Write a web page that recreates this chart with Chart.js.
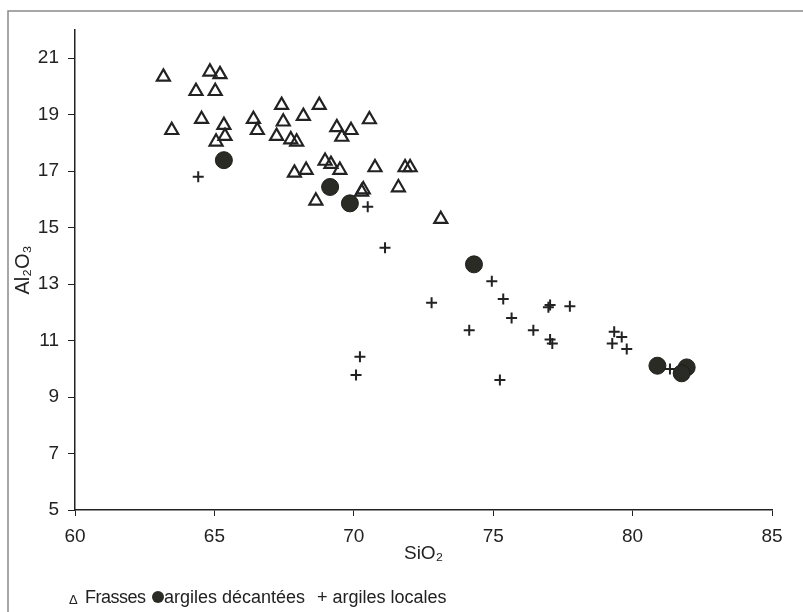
<!DOCTYPE html>
<html>
<head>
<meta charset="utf-8">
<script src="https://cdn.jsdelivr.net/npm/chart.js@4.4.0/dist/chart.umd.min.js"></script>
<style>
  body { margin: 0; background: #fff; }
  #wrap { position: relative; width: 803px; height: 612px; font-family: 'Liberation Sans', Arial, sans-serif; color: #222; }
  #legend span { position: absolute; top: 586px; font-size: 18px; line-height: 22px; white-space: nowrap; }
  .dot { display: inline-block; width: 12px; height: 12px; border-radius: 50%; background: #2b2b25; }
</style>
</head>
<body>
<div id="wrap">
  <canvas id="c" width="803" height="612"></canvas>
  <div id="legend">
    <span style="left:69px;font-size:13px;top:589px">&#916;</span>
    <span style="left:85px;letter-spacing:-0.5px">Frasses</span>
    <span style="left:152px;top:591px" class="dot"></span>
    <span style="left:164px">argiles décantées</span>
    <span style="left:317px">+ argiles locales</span>
  </div>
</div>
<script>
// Frasses (triangles)
const frassesSi = [63.17, 64.84, 65.2, 64.34, 65.03, 63.47, 64.54, 65.34, 65.38, 65.06,
  66.4, 66.54, 67.41, 67.47, 68.19, 67.23, 67.74, 67.95, 67.87, 68.29,
  68.76, 70.56, 69.39, 69.9, 69.57, 68.97, 69.18, 69.5, 70.76, 71.84,
  72.02, 70.34, 70.28, 71.6, 68.64, 73.12];
const frassesAl = [20.34, 20.52, 20.43, 19.83, 19.83, 18.45, 18.84, 18.63, 18.24, 18.04,
  18.84, 18.45, 19.34, 18.75, 18.95, 18.24, 18.12, 18.04, 16.94, 17.04,
  19.34, 18.83, 18.55, 18.45, 18.21, 17.36, 17.25, 17.04, 17.13, 17.13,
  17.13, 16.35, 16.27, 16.42, 15.95, 15.3];

// argiles décantées (filled circles)
const decanteesSi = [65.34, 69.15, 69.86, 74.31, 80.89, 81.94, 81.76];
const decanteesAl = [17.39, 16.44, 15.86, 13.7, 10.11, 10.05, 9.84];

// argiles locales (crosses)
const localesSi = [64.42, 70.5, 71.12, 74.95, 72.79, 75.36, 77.04, 76.98, 77.75, 75.66,
  74.14, 76.44, 77.04, 77.12, 75.24, 79.34, 79.61, 79.27, 79.79, 81.34,
  70.22, 70.08];
const localesAl = [16.8, 15.74, 14.29, 13.1, 12.34, 12.47, 12.26, 12.18, 12.22, 11.8,
  11.37, 11.37, 11.04, 10.9, 9.6, 11.31, 11.13, 10.9, 10.7, 9.99,
  10.43, 9.78];

const yTicks = [5, 7, 9, 11, 13, 15, 17, 19, 21];

const pts = (xs, ys) => xs.map((x, i) => ({ x: x, y: ys[i] }));
const FONT = "'Liberation Sans', Arial, sans-serif";

const framePlugin = {
  id: 'frame',
  beforeDraw(chart) {
    const ctx = chart.ctx;
    ctx.save();
    ctx.strokeStyle = '#8a8a8a';
    ctx.lineWidth = 1.5;
    ctx.beginPath();
    ctx.moveTo(8, 612);
    ctx.lineTo(8, 11);
    ctx.lineTo(803, 11);
    ctx.stroke();
    ctx.restore();
  }
};

new Chart(document.getElementById('c'), {
  type: 'scatter',
  data: {
    datasets: [
      {
        label: 'Frasses',
        data: pts(frassesSi, frassesAl),
        pointStyle: 'triangle',
        pointRadius: 7.5,
        pointBorderWidth: 2.2,
        borderColor: '#222',
        backgroundColor: 'rgba(255,255,255,0)',
        order: 3
      },
      {
        label: 'argiles décantées',
        data: pts(decanteesSi, decanteesAl),
        pointStyle: 'circle',
        pointRadius: 8.5,
        pointBorderWidth: 1,
        borderColor: '#1e1e1a',
        backgroundColor: '#2b2b25',
        order: 1
      },
      {
        label: 'argiles locales',
        data: pts(localesSi, localesAl),
        pointStyle: 'cross',
        pointRadius: 5.5,
        pointBorderWidth: 2,
        borderColor: '#222',
        order: 2
      }
    ]
  },
  options: {
    responsive: false,
    animation: false,
    layout: { padding: { left: 0, right: 31, top: 30, bottom: 0 } },
    plugins: {
      legend: { display: false },
      tooltip: { enabled: false }
    },
    scales: {
      x: {
        type: 'linear',
        min: 60,
        max: 85,
        afterFit: s => { s.height = 102; },
        ticks: { stepSize: 5, color: '#222', padding: 9, font: { family: FONT, size: 19 } },
        grid: { drawOnChartArea: false, drawTicks: true, tickLength: 6, color: '#222' },
        border: { color: '#222', width: 1.5 },
        title: {
          display: true,
          text: 'SiO₂',
          color: '#222',
          font: { family: FONT, size: 19 },
          padding: { top: 0, bottom: 47 }
        }
      },
      y: {
        type: 'linear',
        min: 5,
        max: 22,
        afterFit: s => { s.width = 75; },
        afterBuildTicks: s => { s.ticks = yTicks.map(v => ({ value: v })); },
        ticks: { color: '#222', padding: 9, font: { family: FONT, size: 19 } },
        grid: { drawOnChartArea: false, drawTicks: true, tickLength: 7, color: '#222' },
        border: { color: '#222', width: 1.5 },
        title: {
          display: true,
          text: 'Al₂O₃',
          color: '#222',
          font: { family: FONT, size: 20 },
          padding: { top: 11, bottom: 0 }
        }
      }
    }
  },
  plugins: [framePlugin]
});
</script>
</body>
</html>
